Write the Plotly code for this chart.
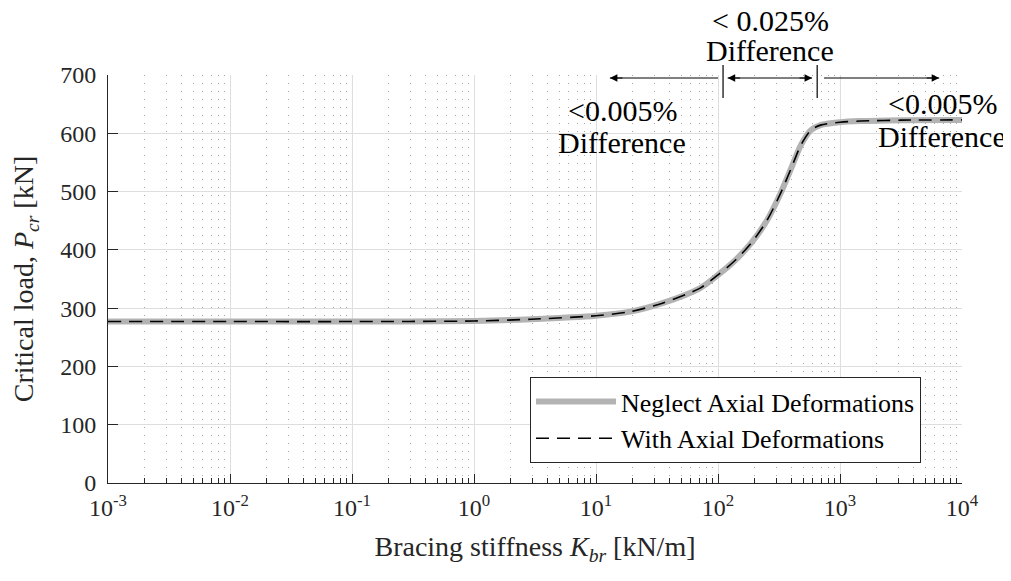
import math
import plotly.graph_objects as go

# Data
K_br = [0.001, 0.01, 0.1, 1, 2.95, 10, 19.1, 35.5, 70.8, 100, 135, 186, 251, 324, 398, 479,
        575, 692, 1000, 1480, 3160, 10000]
P_neglect = [277, 277, 277, 278, 281, 287, 294, 309, 334, 357, 380, 411, 450, 496, 540, 580,
             605, 614, 619, 621, 622.5, 623]
P_with = [277, 277, 277, 278, 281, 287, 294, 309, 334, 357, 380, 411, 450, 496, 540, 580,
          605, 614, 619, 621, 622.5, 623]

x_tick_vals = [1e-3, 1e-2, 1e-1, 1, 10, 100, 1000, 1e4]
x_tick_text = ["10<sup>-3</sup>", "10<sup>-2</sup>", "10<sup>-1</sup>", "10<sup>0</sup>",
               "10<sup>1</sup>", "10<sup>2</sup>", "10<sup>3</sup>", "10<sup>4</sup>"]
y_tick_vals = [0, 100, 200, 300, 400, 500, 600, 700]

# region boundaries and arrow extents (bracing stiffness, kN/m)
region_bounds = [110, 650]
arrow_spans = [(13, 100, "start"), (120, 590, "both"), (740, 6500, "end")]

FONT = "Liberation Serif, Times New Roman, serif"
AX = "#262626"

OFF = 8  # page body margin
W, H = 1011 - OFF, 581 - OFF
L, T = 108 - OFF, 75 - OFF
R = W - (962 - OFF)
B = H - (483 - OFF)
PW, PH = W - L - R, H - T - B


def px(xpage):
    return (xpage - OFF - L) / PW


def py(ypage):
    return (H - B - (ypage - OFF)) / PH


fig = go.Figure()
fig.add_trace(go.Scatter(x=K_br, y=P_neglect, mode="lines", name="Neglect Axial Deformations",
                         line=dict(color="#b3b3b3", width=6, shape="spline", smoothing=0.8)))
fig.add_trace(go.Scatter(x=K_br, y=P_with, mode="lines", name="With Axial Deformations",
                         line=dict(color="black", width=1.6, dash="13px,8px", shape="spline",
                                   smoothing=0.8)))

minor_vals = [k * 10 ** e for e in range(-3, 4) for k in range(2, 10)]

fig.update_xaxes(type="log", range=[-3, 4], tickvals=x_tick_vals, ticktext=x_tick_text,
                 ticks="inside", ticklen=9, tickcolor=AX, tickwidth=1, ticklabelstandoff=3,
                 showline=True, linecolor=AX, linewidth=1, mirror=False, automargin=False,
                 showgrid=True, gridcolor="#dedede", gridwidth=1, zeroline=False,
                 tickfont=dict(family=FONT, size=24, color=AX),
                 title=dict(text="Bracing stiffness <i>K</i><sub><i>br</i></sub> [kN/m]",
                            font=dict(family=FONT, size=28, color=AX), standoff=16),
                 minor=dict(tickvals=minor_vals, ticks="inside", ticklen=5, tickcolor=AX,
                            showgrid=True, gridcolor="#a8a8a8", griddash="1px,7px", gridwidth=1))
fig.update_yaxes(range=[0, 700], tickvals=y_tick_vals,
                 ticks="inside", ticklen=10, tickcolor=AX, tickwidth=1, ticklabelstandoff=6,
                 showline=True, linecolor=AX, linewidth=1, automargin=False,
                 showgrid=True, gridcolor="#dedede", gridwidth=1, zeroline=False,
                 tickfont=dict(family=FONT, size=24, color=AX),
                 title=dict(text="Critical load, <i>P</i><sub><i>cr</i></sub> [kN]",
                            font=dict(family=FONT, size=28, color=AX), standoff=18))

ann_font = dict(family=FONT, size=30, color="black")
text_lines = [
    (770, 20, "< 0.025%"), (770, 51, "Difference"),
    (622, 110, "<0.005%"), (622, 142, "Difference"),
    (942, 104, "<0.005%"), (942, 136, "Difference"),
]
for xp, yp, t in text_lines:
    fig.add_annotation(x=px(xp), y=py(yp), xref="paper", yref="paper", text=t, showarrow=False,
                       font=ann_font, yanchor="middle", xanchor="center")

arrow_y = py(78)
for k0, k1, side in arrow_spans:
    fig.add_shape(type="line", x0=k0, x1=k1, y0=arrow_y, y1=arrow_y, xref="x", yref="paper",
                  line=dict(color="black", width=1))
    if side in ("start", "both"):
        fig.add_annotation(x=math.log10(k0), y=arrow_y, ax=14, ay=0, xref="x", yref="paper",
                           axref="pixel", ayref="pixel", text="", showarrow=True, arrowhead=2,
                           arrowsize=1.5, arrowwidth=1, arrowcolor="black", standoff=0)
    if side in ("end", "both"):
        fig.add_annotation(x=math.log10(k1), y=arrow_y, ax=-14, ay=0, xref="x", yref="paper",
                           axref="pixel", ayref="pixel", text="", showarrow=True, arrowhead=2,
                           arrowsize=1.5, arrowwidth=1, arrowcolor="black", standoff=0)
for kb in region_bounds:
    fig.add_shape(type="line", x0=kb, x1=kb, y0=py(98), y1=py(65), xref="x", yref="paper",
                  line=dict(color="black", width=1.2))

fig.update_layout(
    width=W, height=H,
    margin=dict(l=L, r=R, t=T, b=B),
    paper_bgcolor="white", plot_bgcolor="white",
    font=dict(family=FONT, color=AX),
    showlegend=True,
    legend=dict(x=px(530), y=py(420), xanchor="left", yanchor="middle",
                bgcolor="white", bordercolor=AX, borderwidth=1,
                font=dict(family=FONT, size=26, color="black"),
                itemwidth=80, tracegroupgap=0),
)

fig.write_html("out.html")
